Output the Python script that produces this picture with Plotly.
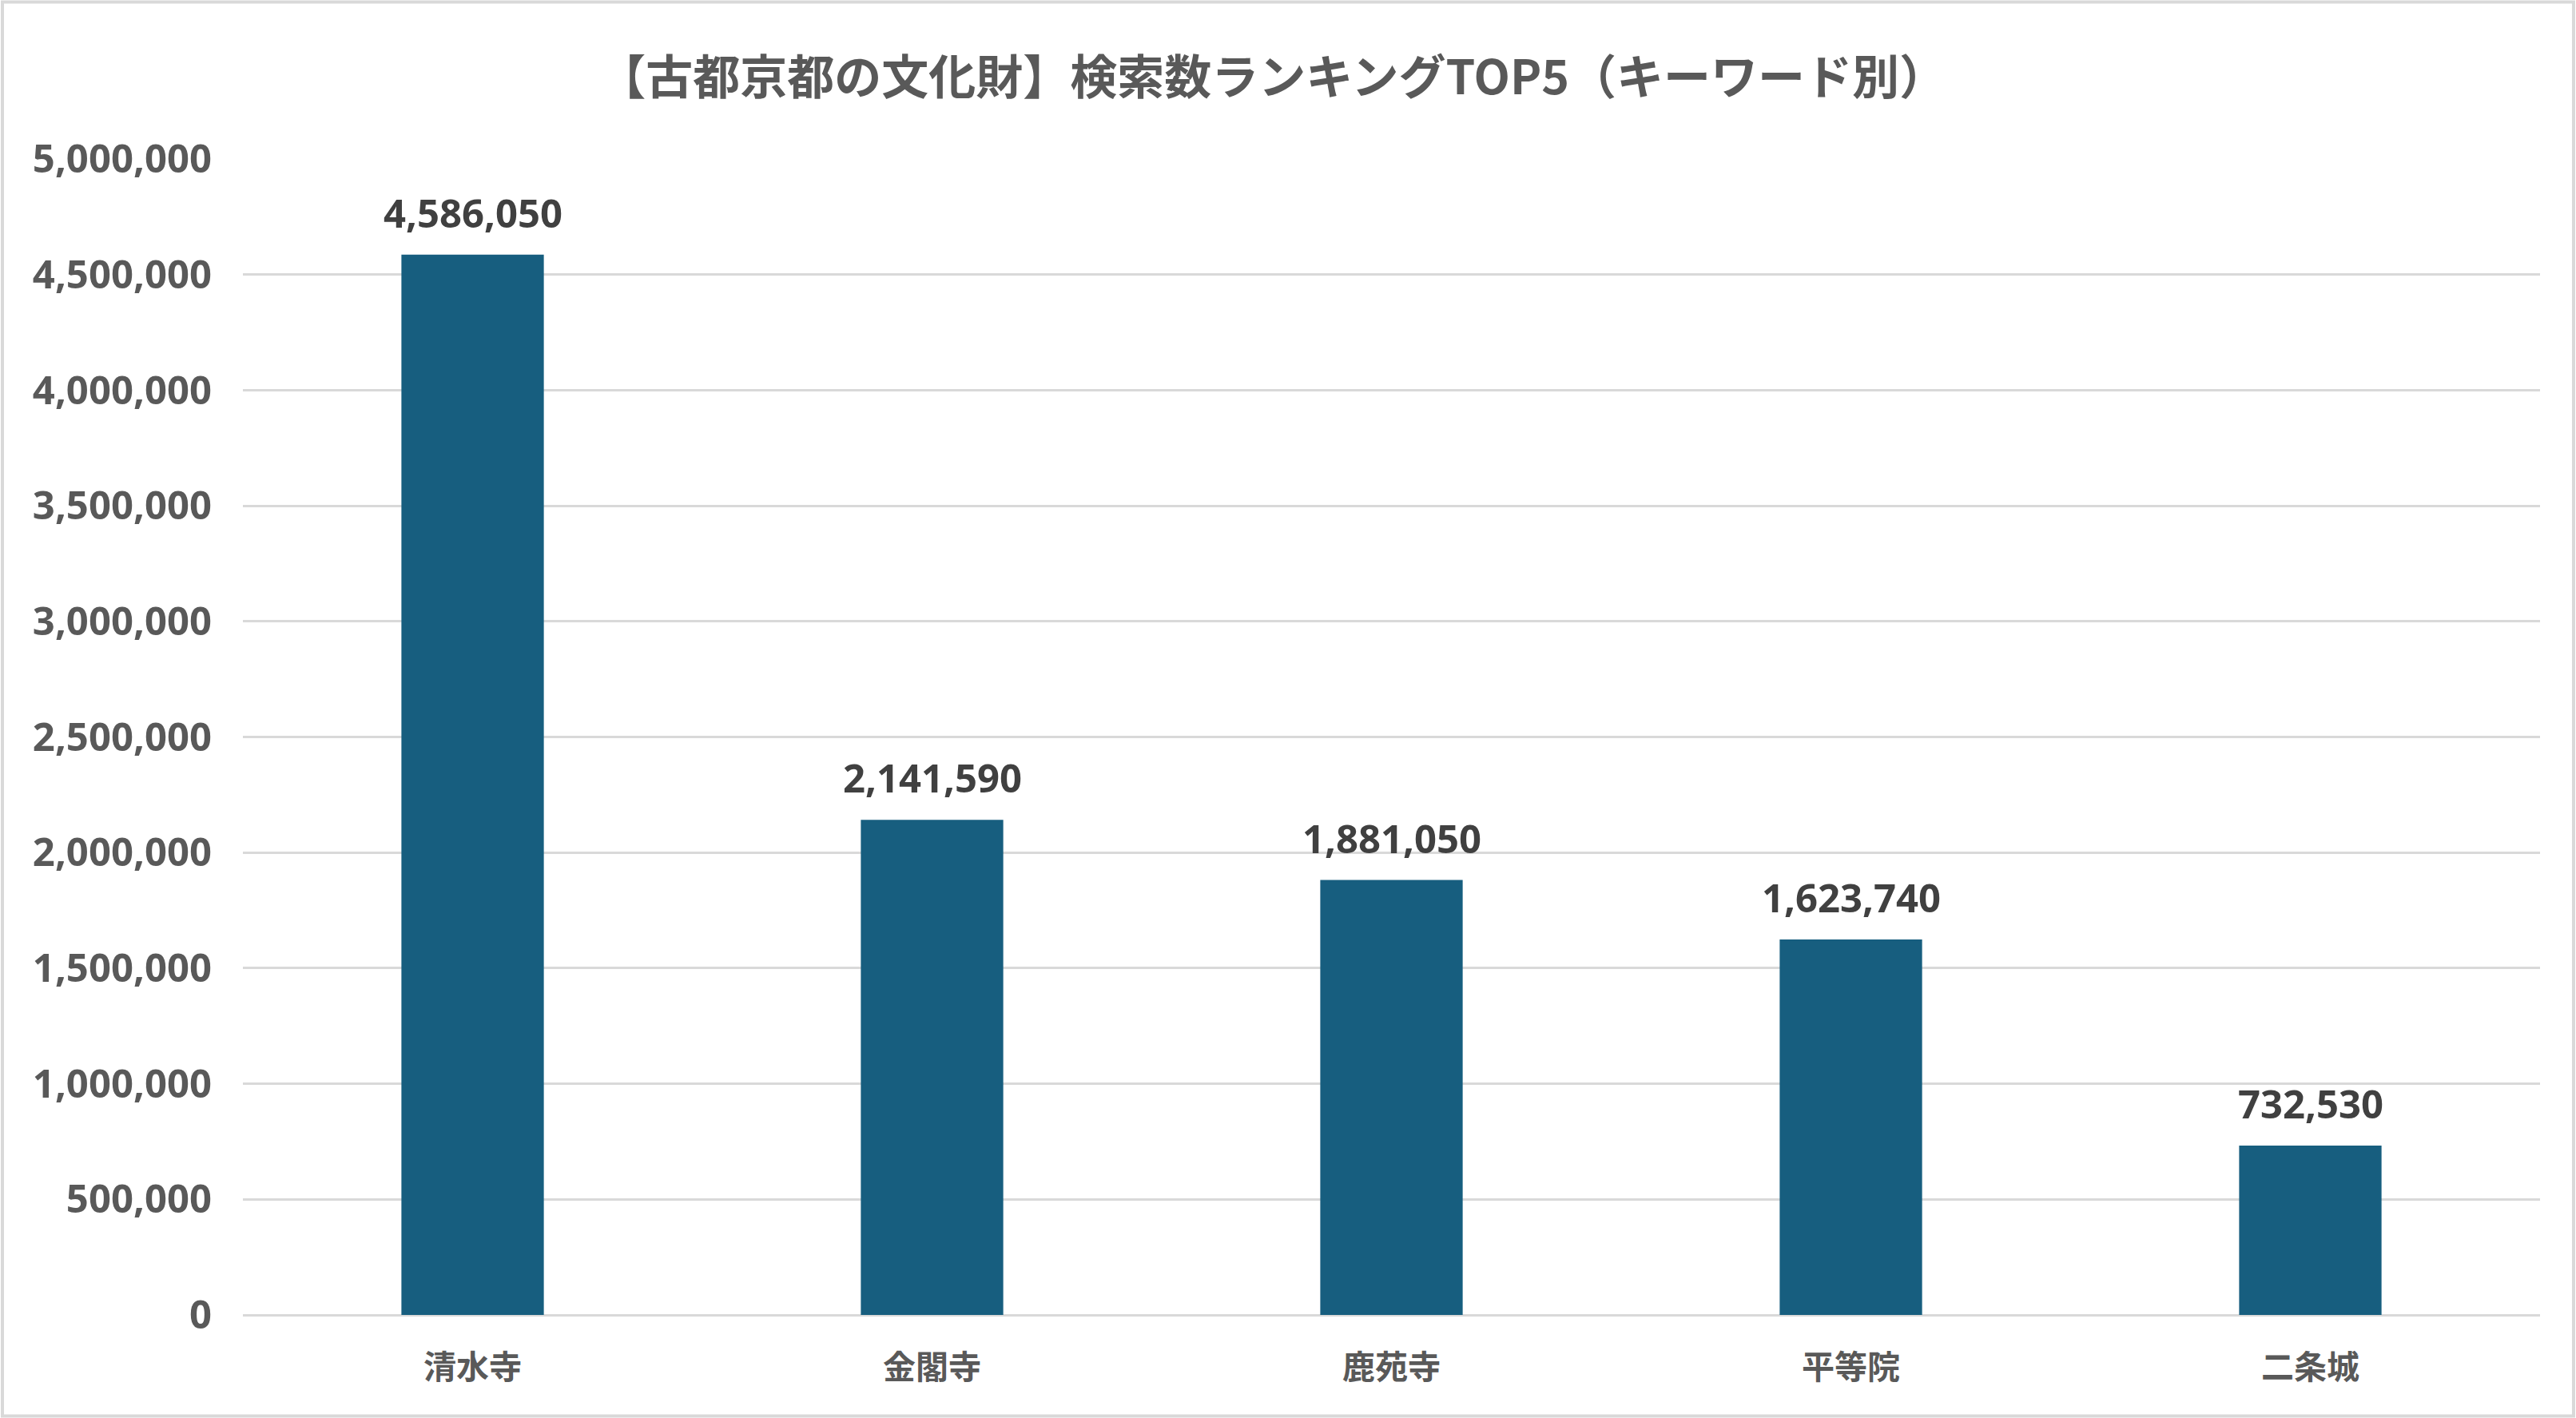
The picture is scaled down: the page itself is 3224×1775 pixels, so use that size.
import plotly.graph_objects as go

# data
categories = ["清水寺", "金閣寺", "鹿苑寺", "平等院", "二条城"]
search_counts = [4586050, 2141590, 1881050, 1623740, 732530]

y_ticks = list(range(0, 5000001, 500000))

title_text = "【古都京都の文化財】検索数ランキングTOP5（キーワード別）"

bar_color = "#175E7F"
axis_gray = "#595959"
label_gray = "#404040"
grid_gray = "#D9D9D9"
font_family = "Noto Sans, Noto Sans CJK JP, sans-serif"

fig = go.Figure()

fig.add_trace(go.Bar(
    x=categories,
    y=search_counts,
    marker=dict(color=bar_color, line=dict(width=0)),
    hovertemplate="%{x}: %{y:,}<extra></extra>",
    showlegend=False,
))

# value labels above bars
for cat, val in zip(categories, search_counts):
    fig.add_annotation(
        x=cat, y=val,
        text=f"<b>{val:,}</b>",
        showarrow=False,
        yanchor="bottom",
        yshift=18,
        font=dict(family=font_family, size=49, color=label_gray),
    )

fig.update_layout(
    width=3224,
    height=1775,
    margin=dict(l=304, r=45, t=199, b=129, pad=0),
    paper_bgcolor="white",
    plot_bgcolor="white",
    bargap=0.69,
    title=dict(
        text=f"<b>{title_text}</b>",
        x=0.494, xanchor="center",
        y=0.945, yanchor="middle",
        font=dict(family="Noto Sans CJK JP, sans-serif", size=59, color=axis_gray),
    ),
    xaxis=dict(
        showgrid=False,
        showline=False,
        ticks="",
        tickfont=dict(family="Noto Sans CJK JP, sans-serif", size=41, color=axis_gray, weight="bold"),
        ticklabelstandoff=38,
    ),
    yaxis=dict(
        range=[0, 5000000],
        tickvals=y_ticks,
        tickformat=",d",
        showgrid=True,
        gridcolor=grid_gray,
        gridwidth=3,
        zeroline=True,
        zerolinecolor=grid_gray,
        zerolinewidth=3,
        showline=False,
        ticks="",
        tickfont=dict(family=font_family, size=49, color=axis_gray, weight="bold"),
        ticklabelstandoff=38,
    ),
)

# outer chart border
fig.add_shape(
    type="rect", xref="paper", yref="paper",
    x0=-0.1047, x1=1.0146, y0=-0.0875, y1=1.1358,
    line=dict(color=grid_gray, width=4),
    fillcolor="rgba(0,0,0,0)",
    layer="below",
)

fig.write_html(
    "out.html",
    config={"displayModeBar": False},
    post_script="document.body.style.margin='0px';",
)
